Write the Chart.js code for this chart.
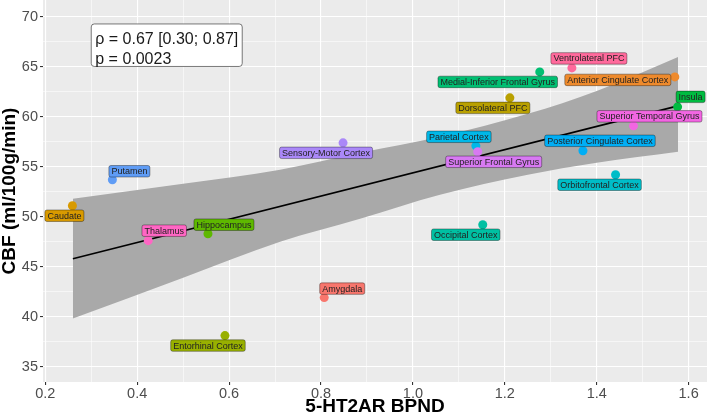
<!DOCTYPE html>
<html>
<head>
<meta charset="utf-8">
<script src="https://cdn.jsdelivr.net/npm/chart.js@4.4.0/dist/chart.umd.min.js"></script>
<style>
  html, body { margin: 0; padding: 0; background: #ffffff; }
</style>
</head>
<body>
<canvas id="cbfChart" width="709" height="417"></canvas>
<script>
// regions, in the order ggplot gave them colours
const regions = [
  'Amygdala', 'Anterior Cingulate Cortex', 'Caudate', 'Dorsolateral PFC',
  'Entorhinal Cortex', 'Hippocampus', 'Insula', 'Medial-Inferior Frontal Gyrus',
  'Occipital Cortex', 'Orbitofrontal Cortex', 'Parietal Cortex', 'Posterior Cingulate Cortex',
  'Putamen', 'Sensory-Motor Cortex', 'Superior Frontal Gyrus', 'Superior Temporal Gyrus',
  'Thalamus', 'Ventrolateral PFC'
];
const bpnd = [0.807, 1.570, 0.259, 1.211, 0.591, 0.554, 1.576, 1.276, 1.152, 1.441, 1.137, 1.370, 0.346, 0.848, 1.141, 1.480, 0.424, 1.346];
const cbf  = [41.9, 64.0, 51.1, 61.9, 38.1, 48.3, 61.0, 64.5, 49.2, 54.2, 57.1, 56.6, 53.7, 57.4, 56.5, 59.1, 47.6, 64.9];

// fitted line + confidence band
const fitX = [0.26, 1.577];
const fitY = [45.8, 61.1];
const bandX    = [0.26, 0.50, 0.711, 0.885, 1.059, 1.25, 1.40, 1.577];
const bandLow  = [39.8, 43.9, 47.5, 49.8, 52.2, 54.2, 55.4, 56.5];
const bandHigh = [51.8, 53.3, 54.7, 56.4, 58.0, 60.3, 62.6, 66.0];

const statLines = ['ρ = 0.67 [0.30; 0.87]', 'p = 0.0023'];

// styling
const regionColors = [
  '#F8766D', '#EE8A2C', '#D89A00', '#B9A000', '#98B000', '#5EB800',
  '#00BB40', '#00BF72', '#00C0A2', '#00BDC8', '#00B8E8', '#00AEF5',
  '#5F9CF5', '#AA88F8', '#D779F2', '#F266E2', '#FF66C4', '#FF6A9C'
];
// where ggrepel put each label, px from its point
const labelDx = [18, -57, -8, -17, -17, 16, 13, -42, -17, -16, -17, 17, 17, -17, 16, 16, 16, 17];
const labelDy = [-9, 3, 10, 10, 10, -9, -10, 10, 10, 10, -9, -10, -8.5, 10, 10, -9.5, -10, -9.5];

const FONT = '"Liberation Sans", Arial, sans-serif';

function isStep(v, step) {
  return Math.abs(v / step - Math.round(v / step)) < 1e-6;
}

const panelBg = {
  id: 'panelBg',
  beforeDraw(chart) {
    const { ctx, chartArea: a } = chart;
    ctx.save();
    ctx.fillStyle = '#EBEBEB';
    ctx.fillRect(a.left, a.top, a.right - a.left, a.bottom - a.top);
    ctx.restore();
  }
};

const regionLabels = {
  id: 'regionLabels',
  afterDatasetsDraw(chart) {
    const ctx = chart.ctx;
    const xs = chart.scales.x, ys = chart.scales.y;
    ctx.save();
    ctx.font = '9px ' + FONT;
    ctx.textAlign = 'center';
    ctx.textBaseline = 'middle';
    regions.forEach((name, i) => {
      const cx = xs.getPixelForValue(bpnd[i]) + labelDx[i];
      const cy = ys.getPixelForValue(cbf[i]) + labelDy[i];
      const w = ctx.measureText(name).width + 5;
      const h = 11.5;
      ctx.beginPath();
      ctx.roundRect(cx - w / 2, cy - h / 2, w, h, 2);
      ctx.fillStyle = regionColors[i];
      ctx.fill();
      ctx.lineWidth = 0.7;
      ctx.strokeStyle = 'rgba(0,0,0,0.5)';
      ctx.stroke();
      ctx.fillStyle = '#222222';
      ctx.fillText(name, cx, cy + 0.5);
    });

    // stats box, top-left corner anchored in data units
    ctx.font = '16px ' + FONT;
    ctx.textAlign = 'left';
    ctx.textBaseline = 'alphabetic';
    const bx = xs.getPixelForValue(0.30);
    const by = ys.getPixelForValue(69.3);
    const bw = Math.max(...statLines.map(t => ctx.measureText(t).width)) + 8;
    const bh = 42.5;
    ctx.beginPath();
    ctx.roundRect(bx, by, bw, bh, 3);
    ctx.fillStyle = '#FFFFFF';
    ctx.fill();
    ctx.lineWidth = 0.8;
    ctx.strokeStyle = '#555555';
    ctx.stroke();
    ctx.fillStyle = '#1A1A1A';
    statLines.forEach((t, k) => ctx.fillText(t, bx + 4, by + 20.5 + k * 19.4));
    ctx.restore();
  }
};

const ctx = document.getElementById('cbfChart').getContext('2d');
new Chart(ctx, {
  type: 'scatter',
  data: {
    datasets: [
      {
        label: 'band upper',
        data: bandX.map((x, i) => ({ x: x, y: bandHigh[i] })),
        showLine: true,
        fill: '+1',
        backgroundColor: '#A9A9A9',
        borderColor: 'rgba(0,0,0,0)',
        pointRadius: 0,
        cubicInterpolationMode: 'monotone',
        order: 4
      },
      {
        label: 'band lower',
        data: bandX.map((x, i) => ({ x: x, y: bandLow[i] })),
        showLine: true,
        fill: false,
        borderColor: 'rgba(0,0,0,0)',
        pointRadius: 0,
        cubicInterpolationMode: 'monotone',
        order: 3
      },
      {
        label: 'fit',
        data: fitX.map((x, i) => ({ x: x, y: fitY[i] })),
        showLine: true,
        borderColor: '#000000',
        borderWidth: 1.6,
        pointRadius: 0,
        order: 2
      },
      {
        label: 'regions',
        data: regions.map((r, i) => ({ x: bpnd[i], y: cbf[i] })),
        pointRadius: 4.5,
        pointBorderWidth: 0,
        pointBackgroundColor: regionColors,
        pointBorderColor: regionColors,
        order: 1
      }
    ]
  },
  options: {
    responsive: false,
    animation: false,
    devicePixelRatio: 1,
    layout: { autoPadding: false, padding: { top: 0, right: 2, bottom: 0, left: 0 } },
    plugins: {
      legend: { display: false },
      tooltip: { enabled: false }
    },
    scales: {
      x: {
        type: 'linear',
        min: 0.195,
        max: 1.64,
        afterFit(s) { s.height = 35; s.paddingLeft = 0; s.paddingRight = 0; },
        border: { display: false },
        grid: {
          color: '#FFFFFF',
          lineWidth: c => isStep(c.tick.value, 0.2) ? 1.1 : 0.55,
          tickColor: c => isStep(c.tick.value, 0.2) ? '#333333' : 'rgba(0,0,0,0)',
          tickLength: 3
        },
        ticks: {
          stepSize: 0.1,
          includeBounds: false,
          maxTicksLimit: 100,
          autoSkip: false,
          maxRotation: 0,
          padding: 0,
          color: '#4D4D4D',
          font: { family: FONT, size: 14.5 },
          callback: v => isStep(v, 0.2) ? v.toFixed(1) : ''
        },
        title: {
          display: true,
          text: '5-HT2AR BPND',
          color: '#000000',
          font: { family: FONT, size: 19, weight: 'bold', lineHeight: 1 },
          padding: { top: 0, bottom: 0.5 }
        }
      },
      y: {
        type: 'linear',
        min: 33.45,
        max: 71.7,
        afterFit(s) { s.width = 43; s.paddingTop = 0; s.paddingBottom = 0; },
        border: { display: false },
        grid: {
          color: '#FFFFFF',
          lineWidth: c => isStep(c.tick.value, 5) ? 1.1 : 0.55,
          tickColor: c => isStep(c.tick.value, 5) ? '#333333' : 'rgba(0,0,0,0)',
          tickLength: 3
        },
        ticks: {
          stepSize: 2.5,
          includeBounds: false,
          maxTicksLimit: 100,
          autoSkip: false,
          padding: 2,
          color: '#4D4D4D',
          font: { family: FONT, size: 14.5 },
          callback: v => isStep(v, 5) ? String(v) : ''
        },
        title: {
          display: true,
          text: 'CBF (ml/100g/min)',
          color: '#000000',
          font: { family: FONT, size: 19, weight: 'bold', lineHeight: 1 },
          padding: { top: 0, bottom: 0 }
        }
      }
    }
  },
  plugins: [panelBg, regionLabels]
});
</script>
</body>
</html>
